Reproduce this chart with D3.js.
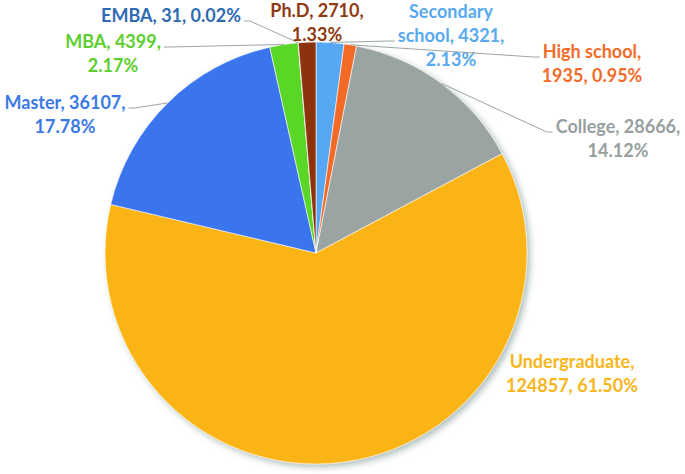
<!DOCTYPE html>
<html>
<head>
<meta charset="UTF-8">
<title>Education level</title>
<style>
    body { margin: 0; padding: 0; background: #fff; }
    svg { display: block; }
    text { font-family: Lato, "Open Sans", sans-serif; font-weight: bold; }
</style>
</head>
<body>
<svg width="685" height="474"></svg>
<script src="https://cdn.jsdelivr.net/npm/d3@7"></script>
<script>
    // data, clockwise from 12 o'clock
    var categories = ["Secondary school", "High school", "College", "Undergraduate", "Master", "MBA", "EMBA", "Ph.D"];
    var values = [4321, 1935, 28666, 124857, 36107, 4399, 31, 2710];
    var fills = ["#56a8f5", "#f26a28", "#9aa4a2", "#fbb414", "#3a74ee", "#5ad626", "#2e69b0", "#8c3309"];
    var textColors = ["#58a9f0", "#f26b2a", "#979f9e", "#f9b61a", "#3b78e7", "#5ccf2e", "#2e6ab2", "#8e3a12"];

    // label layout: centre x, first baseline, how text breaks, which line the leader leaves from
    var labelLayout = [
        {x: 451, y: 18, mode: "split", lead: 1, side: "left"},
        {x: 592, y: 58, mode: "c|vp", lead: 0, side: "left"},
        {x: 618, y: 133, mode: "cv|p", lead: 0, side: "left"},
        {x: 572, y: 368, mode: "c|vp", lead: -1},
        {x: 65, y: 109, mode: "cv|p", lead: 0, side: "right"},
        {x: 113, y: 48, mode: "cv|p", lead: 0, side: "right"},
        {x: 171, y: 22, mode: "one", lead: 0, side: "right"},
        {x: 317, y: 17, mode: "cv|p", lead: -1}
    ];

    var svg = d3.select("svg"),
        cx = 316, cy = 253, radius = 211, lineH = 24;

    var total = d3.sum(values);
    var pct = d3.format(".2%");

    var defs = svg.append("defs");
    var f = defs.append("filter").attr("id", "shadow")
        .attr("x", "-10%").attr("y", "-10%").attr("width", "120%").attr("height", "120%");
    f.append("feDropShadow")
        .attr("dx", 3).attr("dy", 3).attr("stdDeviation", 3)
        .attr("flood-color", "#6f8c8c").attr("flood-opacity", 0.55);

    var pie = d3.pie().sort(null).value(function (d) { return d; });
    var arcs = pie(values);
    var arc = d3.arc().innerRadius(0).outerRadius(radius);

    var g = svg.append("g").attr("transform", "translate(" + cx + "," + cy + ")");

    g.append("g").attr("filter", "url(#shadow)")
        .selectAll("path")
        .data(arcs)
        .enter().append("path")
        .attr("d", arc)
        .attr("fill", function (d, i) { return fills[i]; })
        .attr("stroke", "#ffffff")
        .attr("stroke-width", 0.6);

    function lines(i) {
        var c = categories[i], v = values[i], p = pct(v / total);
        var m = labelLayout[i].mode;
        if (m == "one") return [c + ", " + v + ", " + p];
        if (m == "cv|p") return [c + ", " + v + ",", p];
        if (m == "c|vp") return [c + ",", v + ", " + p];
        var w = c.split(" ");
        return [w[0], w[1] + ", " + v + ",", p];
    }

    var labels = svg.append("g");
    arcs.forEach(function (d, i) {
        var L = labelLayout[i];
        var t = labels.append("text")
            .attr("text-anchor", "middle")
            .attr("fill", textColors[i])
            .style("font-size", "18px");
        var ls = lines(i);
        var spans = ls.map(function (s, k) {
            return t.append("tspan").attr("x", L.x).attr("y", L.y + k * lineH).text(s);
        });
        if (L.lead < 0) return;
        var node = spans[L.lead].node();
        var w = node.getComputedTextLength();
        var sx = L.side == "left" ? L.x - w / 2 - 3 : L.x + w / 2 + 3;
        var sy = L.y + L.lead * lineH - 1;
        var stub = L.side == "left" ? sx - 6 : sx + 6;
        var a = (d.startAngle + d.endAngle) / 2;
        var ex = cx + radius * Math.sin(a), ey = cy - radius * Math.cos(a);
        labels.append("path")
            .attr("d", d3.line()([[sx, sy], [stub, sy], [ex, ey]]))
            .attr("fill", "none")
            .attr("stroke", "#9aa5a3")
            .attr("stroke-width", 1);
    });
</script>
</body>
</html>
